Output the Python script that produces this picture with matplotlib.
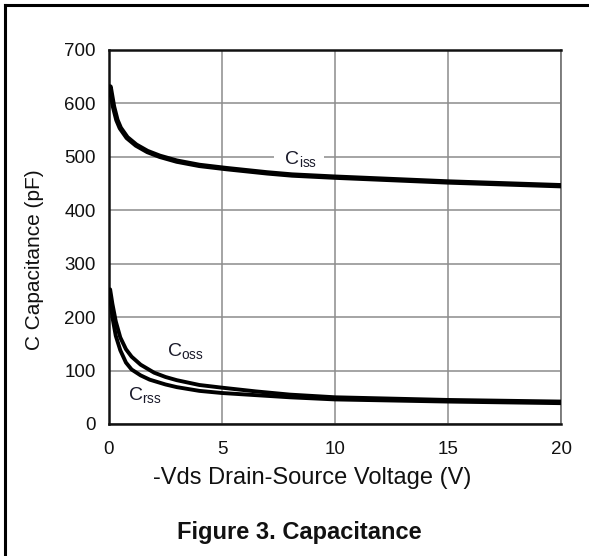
import matplotlib
matplotlib.use("Agg")
import matplotlib.pyplot as plt
from matplotlib.lines import Line2D

plt.rcParams['font.family'] = ['Liberation Sans', 'DejaVu Sans']
plt.rcParams['mathtext.fontset'] = 'custom'
plt.rcParams['mathtext.rm'] = 'Liberation Sans'
plt.rcParams['mathtext.it'] = 'Liberation Sans:italic'
plt.rcParams['mathtext.bf'] = 'Liberation Sans:bold'

# ---- data ----
ciss_v = [0.0, 0.05, 0.2, 0.35, 0.5, 0.8, 1.2, 1.7, 2.25, 3.0, 4.0, 5.2, 7.0, 8.1, 10, 15, 20]
ciss_c = [618, 631, 594, 569, 554, 536, 522, 510, 501, 492, 484, 478, 470, 466, 462, 453, 446]

coss_v = [0.05, 0.15, 0.3, 0.5, 0.75, 1.0, 1.4, 2.0, 2.5, 3.0, 4.0, 5.0, 6.5, 8.0, 10, 15, 20]
coss_c = [252, 225, 192, 162, 140, 126, 111, 96, 88, 82, 73, 68, 61, 55, 50, 45, 42]

crss_v = [0.05, 0.15, 0.3, 0.5, 0.75, 1.0, 1.4, 1.8, 2.5, 3.0, 4.0, 5.0, 6.5, 8.0, 10, 15, 20]
crss_c = [240, 200, 165, 138, 115, 102, 91, 83, 74, 69, 62, 58, 54, 50, 46, 42, 39]

x_ticks = [0, 5, 10, 15, 20]
y_ticks = [0, 100, 200, 300, 400, 500, 600, 700]

x_label = "-Vds Drain-Source Voltage (V)"
y_label = "C Capacitance (pF)"
caption = "Figure 3. Capacitance"

W, H = 589, 556
fig = plt.figure(figsize=(W / 100, H / 100), dpi=100)
ax = fig.add_axes([109 / W, 1 - 424 / H, (561 - 109) / W, (424 - 50) / H])

ax.plot(ciss_v, ciss_c, color='black', lw=3.8, solid_capstyle='round', zorder=4)
ax.plot(coss_v, coss_c, color='black', lw=2.8, solid_capstyle='round', zorder=4)
ax.plot(crss_v, crss_c, color='black', lw=2.8, solid_capstyle='round', zorder=4)

ax.set_xlim(0, 20)
ax.set_ylim(0, 700)
ax.set_xticks(x_ticks)
ax.set_yticks(y_ticks)
ax.grid(True, color='#8c8c8c', lw=1.1, zorder=1)
ax.set_axisbelow(True)
ax.tick_params(axis='both', length=0, labelsize=13.5, colors='#111111')
ax.tick_params(axis='y', pad=9.4)
ax.tick_params(axis='x', pad=12)

for s in ['left', 'bottom', 'top']:
    ax.spines[s].set_color('#111111')
    ax.spines[s].set_linewidth(1.8)
ax.spines['right'].set_color('#777777')
ax.spines['right'].set_linewidth(1.3)

ax.set_xlabel(x_label, fontsize=17, color='#111111')
ax.xaxis.label.set_va('center')
ax.xaxis.set_label_coords((312 - 109) / 452, (424 - 478) / 374)
ax.set_ylabel(y_label, fontsize=15, color='#111111')
ax.yaxis.label.set_va('center')
ax.yaxis.set_label_coords((35 - 109) / 452, (424 - 260) / 374)

ax.text(8.4, 496, r'  $\mathregular{C_{iss}}$  ', fontsize=14, ha='center', va='center',
        color='#1a1a2a', zorder=3,
        bbox=dict(boxstyle='square,pad=0.02', fc='white', ec='none'))
ax.text(2.55, 137, r'$\mathregular{C_{oss}}$', fontsize=14, ha='left', va='center',
        color='#1a1a2a', zorder=3)
ax.text(0.82, 54, r'$\mathregular{C_{rss}}$', fontsize=14, ha='left', va='center',
        color='#1a1a2a', zorder=3)

fig.text(299 / W, 1 - 533 / H, caption, fontsize=17, fontweight='bold',
         ha='center', va='center', color='#111111')

# outer document frame (top and left edges)
fig.add_artist(Line2D([4.5 / W, 4.5 / W], [0, 1 - 4.5 / H], transform=fig.transFigure,
                      color='black', lw=2.2))
fig.add_artist(Line2D([4.5 / W, 1], [1 - 4.5 / H, 1 - 4.5 / H], transform=fig.transFigure,
                      color='black', lw=2.2))

fig.savefig('out.png', dpi=100, facecolor='white')
